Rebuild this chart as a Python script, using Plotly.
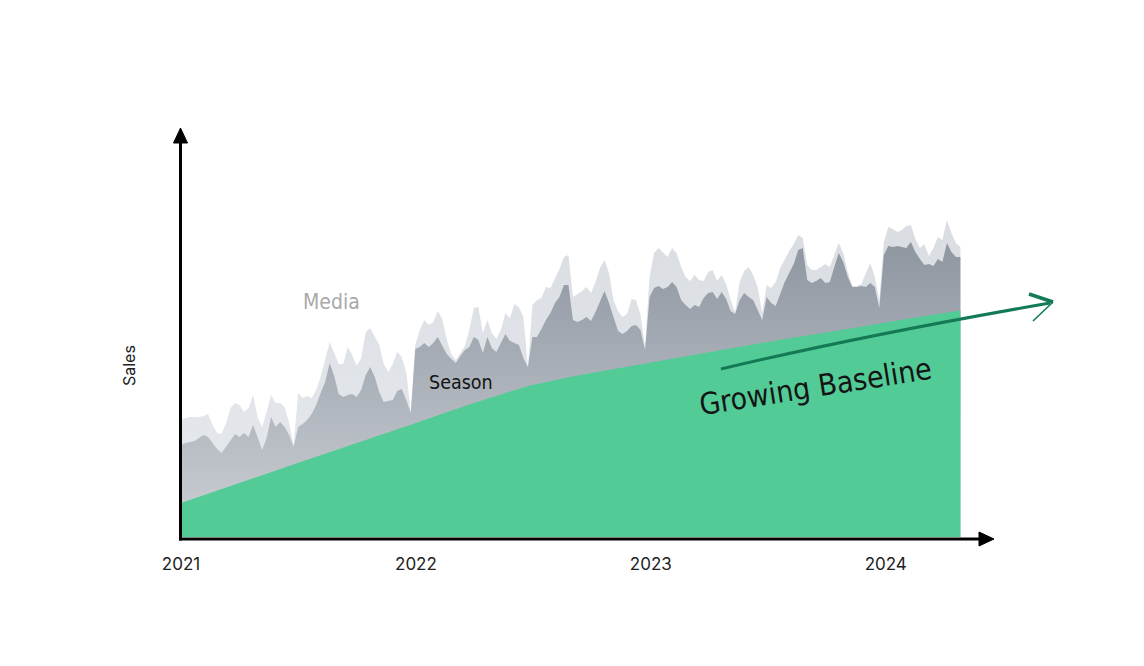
import pandas as pd
import plotly.graph_objects as go

# ---------------- data ----------------
weeks = pd.date_range("2021-01-01", periods=174, freq="7D")

# total sales level (baseline + season + media)
media_level = [
    117, 119, 120, 120, 120, 121, 123, 112, 104, 103, 114, 129, 134, 132, 125, 129, 142, 120, 110, 125,
    142, 134, 134, 130, 114, 92, 144, 139, 141, 139, 147, 160, 179, 195, 184, 173, 173, 190, 182, 171,
    179, 205, 209, 200, 192, 173, 165, 173, 185, 180, 165, 125, 192, 207, 217, 212, 215, 226, 218, 197,
    183, 177, 184, 191, 207, 229, 230, 204, 217, 204, 198, 207, 224, 219, 233, 230, 220, 170, 232, 237,
    239, 250, 249, 259, 268, 280, 282, 240, 243, 246, 250, 244, 255, 269, 277, 264, 237, 226, 220, 223,
    238, 237, 222, 190, 260, 284, 289, 284, 280, 289, 284, 270, 260, 256, 262, 257, 256, 265, 267, 256,
    262, 253, 237, 225, 255, 266, 270, 262, 250, 224, 252, 249, 255, 269, 278, 286, 293, 302, 299, 272,
    267, 267, 270, 273, 270, 283, 294, 284, 265, 251, 251, 253, 264, 274, 260, 237, 295, 310, 308, 305,
    307, 311, 312, 298, 289, 293, 281, 289, 300, 297, 317, 304, 294, 290,
]

# baseline + season level
season_level = [
    92, 94, 95, 96, 99, 102, 100, 94, 88, 84, 90, 96, 103, 100, 104, 100, 112, 100, 87, 99,
    120, 110, 115, 110, 102, 90, 110, 113, 117, 123, 132, 144, 155, 174, 161, 143, 140, 142, 143, 140,
    147, 162, 170, 160, 145, 135, 136, 137, 146, 148, 137, 124, 188, 190, 194, 190, 194, 200, 191, 183,
    178, 174, 181, 187, 190, 200, 197, 184, 200, 189, 185, 194, 203, 196, 194, 192, 179, 170, 200, 200,
    208, 217, 224, 234, 240, 252, 252, 217, 215, 217, 220, 216, 225, 235, 246, 234, 219, 206, 203, 206,
    211, 212, 207, 187, 240, 249, 251, 248, 250, 255, 250, 237, 232, 228, 232, 230, 239, 244, 245, 238,
    245, 238, 226, 223, 237, 244, 240, 237, 227, 217, 240, 234, 231, 242, 255, 264, 273, 287, 289, 257,
    254, 256, 259, 254, 255, 270, 284, 275, 260, 250, 250, 251, 250, 254, 250, 229, 282, 291, 290, 291,
    290, 289, 295, 285, 278, 272, 273, 271, 278, 275, 294, 285, 280, 280,
]

baseline_dates = list(pd.date_range("2021-01-01", periods=40, freq="MS")) + [pd.Timestamp("2024-04-26")]
baseline_level = [
    34, 40.7, 47.3, 54, 60.6, 67.3, 74, 80.6, 87.3, 94, 100.6, 107.3,
    114, 120.6, 127.3, 134, 140.5, 146.5, 152, 156.5, 160.5, 164, 167.5, 171,
    174.5, 178, 181.5, 185, 188.5, 192, 195.5, 198.5, 201.5, 204.5, 208, 211,
    214.5, 218, 221, 224, 226.5,
]

year_ticks = ["2021-01-01", "2022-01-01", "2023-01-01", "2024-01-01"]
year_labels = ["2021", "2022", "2023", "2024"]

# ---------------- geometry ----------------
W, H = 1144, 666
ML, MR, MT, MB = 181, 181, 130, 127
PW, PH = W - ML - MR, H - MT - MB


def px(x):
    return (x - ML) / PW


def py(y):
    return (H - MB - y) / PH


GREEN = "#53cb97"
HAND = "DejaVu Sans Condensed, Liberation Sans Narrow, Arial Narrow, sans-serif"

fig = go.Figure()

fig.add_trace(go.Scatter(
    x=weeks, y=media_level, mode="lines", fill="tozeroy",
    line=dict(width=0), fillcolor="#dfe2e7",
    fillgradient=dict(type="vertical", colorscale=[[0, "#e8eaee"], [1, "#d9dde2"]], start=0, stop=320),
    hoverinfo="skip", showlegend=False,
))
fig.add_trace(go.Scatter(
    x=weeks, y=season_level, mode="lines", fill="tozeroy",
    line=dict(width=0), fillcolor="#a7adb5",
    fillgradient=dict(type="vertical", colorscale=[[0, "#ccd0d6"], [1, "#8d959f"]], start=0, stop=300),
    hoverinfo="skip", showlegend=False,
))
fig.add_trace(go.Scatter(
    x=baseline_dates, y=baseline_level, mode="lines", fill="tozeroy",
    line=dict(width=0), fillcolor=GREEN,
    hoverinfo="skip", showlegend=False,
))

shapes = []
# y axis with arrow
shapes.append(dict(type="line", xref="paper", yref="paper",
                   x0=px(180.5), x1=px(180.5), y0=py(540.5), y1=py(140),
                   line=dict(color="black", width=3)))
shapes.append(dict(type="path", xref="paper", yref="paper",
                   path=f"M {px(180.5)},{py(128)} L {px(173.5)},{py(143)} L {px(187.5)},{py(143)} Z",
                   fillcolor="black", line=dict(color="black", width=1)))
# x axis with arrow
shapes.append(dict(type="line", xref="paper", yref="paper",
                   x0=px(179), x1=px(982), y0=py(539), y1=py(539),
                   line=dict(color="black", width=3)))
shapes.append(dict(type="path", xref="paper", yref="paper",
                   path=f"M {px(994)},{py(539)} L {px(979)},{py(532)} L {px(979)},{py(546)} Z",
                   fillcolor="black", line=dict(color="black", width=1)))
# growing baseline arrow
ARROW = "#137a55"
shapes.append(dict(type="path", xref="paper", yref="paper",
                   path=f"M {px(721)},{py(369)} Q {px(860)},{py(336)} {px(1050)},{py(303)}",
                   line=dict(color=ARROW, width=3)))
shapes.append(dict(type="path", xref="paper", yref="paper",
                   path=f"M {px(1029)},{py(294)} L {px(1053)},{py(302)}",
                   line=dict(color=ARROW, width=3.5)))
shapes.append(dict(type="path", xref="paper", yref="paper",
                   path=f"M {px(1053)},{py(302)} L {px(1033)},{py(321)}",
                   line=dict(color=ARROW, width=1.6)))

annotations = [
    dict(text="Sales", x=px(129), y=py(366), xref="paper", yref="paper", showarrow=False,
         textangle=-90, font=dict(family="Inter, Roboto, sans-serif", size=16, color="#222222"),
         xanchor="center", yanchor="middle"),
    dict(text="Media", x=px(331), y=py(302), xref="paper", yref="paper", showarrow=False,
         font=dict(family=HAND, size=21, color="#a9a9a9"), xanchor="center", yanchor="middle"),
    dict(text="Season", x=px(461), y=py(382), xref="paper", yref="paper", showarrow=False,
         font=dict(family=HAND, size=19.5, color="#141414"), xanchor="center", yanchor="middle"),
    dict(text="Growing Baseline", x=px(815), y=py(386), xref="paper", yref="paper", showarrow=False,
         textangle=-9, font=dict(family=HAND, size=30, color="#141414"),
         xanchor="center", yanchor="middle"),
]

fig.update_layout(
    width=W, height=H,
    margin=dict(l=ML, r=MR, t=MT, b=MB),
    paper_bgcolor="white", plot_bgcolor="white",
    shapes=shapes, annotations=annotations,
    showlegend=False,
    xaxis=dict(range=["2021-01-01", "2024-04-30"], tickvals=year_ticks, ticktext=year_labels,
               showgrid=False, zeroline=False, showline=False,
               ticks="outside", ticklen=10, tickcolor="rgba(0,0,0,0)",
               tickfont=dict(family="Inter, Roboto, sans-serif", size=17, color="#222222")),
    yaxis=dict(range=[-2, 407], showgrid=False, zeroline=False, showline=False,
               showticklabels=False, ticks=""),
)

fig.write_html("out.html")
